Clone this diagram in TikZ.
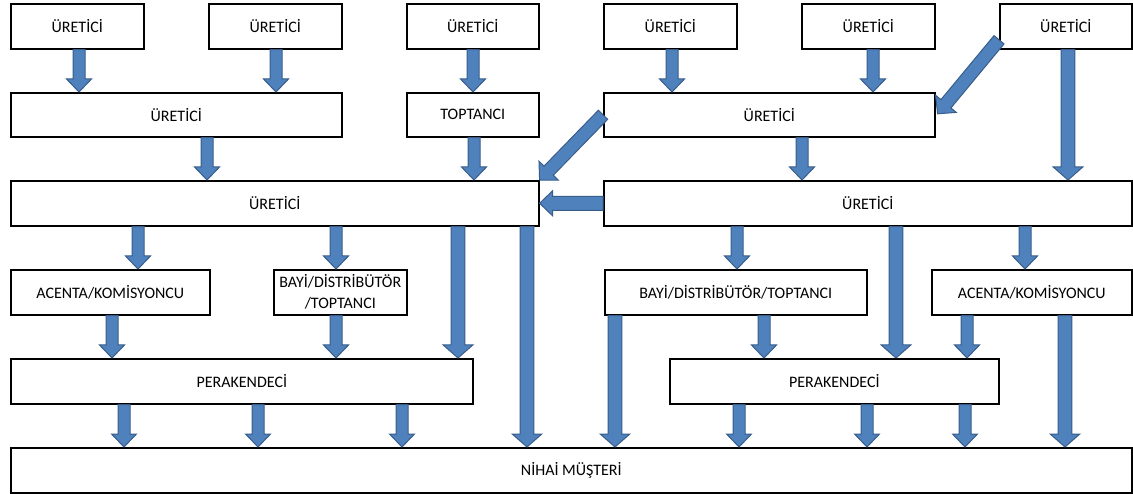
\documentclass[tikz,border=0pt]{standalone}
\usepackage{fontspec}
\setmainfont{Carlito}
\usetikzlibrary{calc}
\definecolor{arrowfill}{HTML}{4F81BD}
\definecolor{arrowline}{HTML}{385D8A}

% block arrow: #1 shaft half-width, #2 head half-width (pt), #3 tail, #4 tip
\newcommand\blockarrow[4]{%
  \coordinate (ba) at (#3);
  \coordinate (bb) at (#4);
  \coordinate (bh) at ($(bb)!13pt!(ba)$);
  \filldraw[flowarrow]
    ($(ba)!#1pt!90:(bb)$) -- ($(bh)!#1pt!90:(bb)$) -- ($(bh)!#2pt!90:(bb)$) --
    (bb) --
    ($(bh)!#2pt!-90:(bb)$) -- ($(bh)!#1pt!-90:(bb)$) -- ($(ba)!#1pt!-90:(bb)$) -- cycle;}
% vertical block arrow at x = #3 from the bottom of node #4 to the top of node #5
\newcommand\vflowgen[5]{%
  \path let \p1=(#4.south), \p2=(#5.north) in (#3pt,\y1) coordinate (va) (#3pt,\y2) coordinate (vb);
  \blockarrow{#1}{#2}{va}{vb}}
\newcommand\sflow[3]{\vflowgen{6}{12.5}{#1}{#2}{#3}}
\newcommand\lflow[3]{\vflowgen{6.8}{14.8}{#1}{#2}{#3}}

\tikzset{
  box/.style={draw=black, line width=1.6pt, fill=white, inner sep=0pt, anchor=north west,
    minimum height=45pt, align=center, font=\fontsize{16}{21}\selectfont},
  flowarrow/.style={fill=arrowfill, draw=arrowline, line width=1pt, line join=miter}
}

\begin{document}
\begin{tikzpicture}[x=1pt, y=-1pt]
\useasboundingbox (0,0) rectangle (1133,494);

% producers
\node[box, minimum width=133pt] (U1) at (10,3) {ÜRETİCİ};
\node[box, minimum width=133pt] (U2) at (208,3) {ÜRETİCİ};
\node[box, minimum width=132pt] (U3) at (406,3) {ÜRETİCİ};
\node[box, minimum width=133pt] (U4) at (603,3) {ÜRETİCİ};
\node[box, minimum width=133pt] (U5) at (801,3) {ÜRETİCİ};
\node[box, minimum width=132pt] (U6) at (999,3) {ÜRETİCİ};

\node[box, minimum width=331pt, minimum height=44pt] (U7) at (10,92) {ÜRETİCİ};
\node[box, minimum width=132pt, minimum height=44pt] (TP) at (406,92) {TOPTANCI};
\node[box, minimum width=331pt, minimum height=44pt] (U8) at (603,92) {ÜRETİCİ};

\node[box, minimum width=528pt] (U9) at (10,180) {ÜRETİCİ};
\node[box, minimum width=528pt] (U10) at (603,180) {ÜRETİCİ};

% intermediaries
\node[box, minimum width=199pt] (AL) at (10,269) {ACENTA/KOMİSYONCU};
\node[box, minimum width=133pt] (BL) at (273,269) {BAYİ/DİSTRİBÜTÖR\\/TOPTANCI};
\node[box, minimum width=262pt] (BR) at (604,269) {BAYİ/DİSTRİBÜTÖR/TOPTANCI};
\node[box, minimum width=200pt] (AR) at (931,269) {ACENTA/KOMİSYONCU};

% retailers and final customer
\node[box, minimum width=462pt] (PL) at (10,358) {PERAKENDECİ};
\node[box, minimum width=329pt] (PR) at (669,358) {PERAKENDECİ};
\node[box, minimum width=1121pt] (N) at (10,447) {NİHAİ MÜŞTERİ};

% short flows
\sflow{79}{U1}{U7}
\sflow{276}{U2}{U7}
\sflow{473}{U3}{TP}
\sflow{672}{U4}{U8}
\sflow{873}{U5}{U8}
\sflow{207}{U7}{U9}
\sflow{474}{TP}{U9}
\sflow{802}{U8}{U10}
\sflow{138}{U9}{AL}
\sflow{336}{U9}{BL}
\sflow{737}{U10}{BR}
\sflow{1025}{U10}{AR}
\sflow{112}{AL}{PL}
\sflow{336}{BL}{PL}
\sflow{764}{BR}{PR}
\sflow{967}{AR}{PR}
\sflow{124}{PL}{N}
\sflow{258}{PL}{N}
\sflow{402}{PL}{N}
\sflow{739}{PR}{N}
\sflow{867}{PR}{N}
\sflow{965}{PR}{N}

% long flows
\lflow{1068}{U6}{U10}
\lflow{458}{U9}{PL}
\lflow{527}{U9}{N}
\lflow{896}{U10}{PR}
\lflow{615}{BR}{N}
\lflow{1065}{AR}{N}

% slanted and sideways flows
\coordinate (d1a) at ([yshift=-13.5pt]U6.west);
\coordinate (d1b) at ([xshift=2pt,yshift=1pt]U8.east);
\blockarrow{6.5}{13.5}{d1a}{d1b}
\blockarrow{6.5}{13.5}{U8.west}{U9.north east}
\blockarrow{7}{12.5}{U10.west}{U9.east}
\end{tikzpicture}
\end{document}
